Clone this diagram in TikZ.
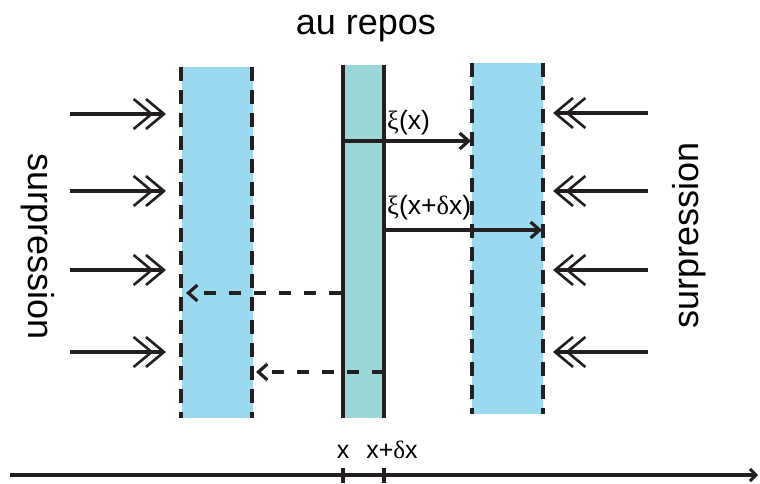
\documentclass[tikz,border=0pt]{standalone}
\usepackage{fontspec}
\setmainfont{Liberation Sans}
\newfontfamily\greekfont{Liberation Serif}
\usetikzlibrary{arrows.meta}
\definecolor{slabblue}{RGB}{154,217,240}
\definecolor{slabteal}{RGB}{155,215,217}
\definecolor{ink}{RGB}{35,31,32}
\tikzset{
  edgedash/.style={ink, line width=3.4pt, dash pattern=on 14pt off 9pt},
  edgesolid/.style={ink, line width=3.2pt},
  pressarrow/.style={ink, line width=3.2pt,
    -{Straight Barb[length=18pt,width=30pt,line width=2.6pt,sep=-9pt]Straight Barb[length=18pt,width=30pt,line width=2.6pt]}},
  disparrow/.style={ink, line width=3.4pt, -{Straight Barb[length=9pt,width=16pt,line width=3.2pt]}},
  dasharrow/.style={ink, line width=3.4pt, dash pattern=on 12pt off 13pt, -{Straight Barb[length=9pt,width=16pt,line width=3.2pt]}},
  bigtext/.style={font=\fontsize{36}{40}\selectfont, inner sep=0pt},
  lbltext/.style={font=\fontsize{25}{28}\selectfont, inner sep=0pt},
  xilabel/.style={font=\fontsize{26.5}{30}\selectfont, inner sep=0pt},
}
\newcommand{\gk}[1]{{\greekfont #1}}
\begin{document}
\begin{tikzpicture}[x=1pt,y=-1pt]
\useasboundingbox (0,0) rectangle (760,484);
% slabs
\fill[slabblue] (182,67) rectangle (253,418);
\fill[slabteal] (343,65) rectangle (384,418);
\fill[slabblue] (472,63) rectangle (543,414);
\draw[edgedash] (181,67) -- (181,418);
\draw[edgedash] (252,67) -- (252,418);
\draw[edgesolid] (343,65) -- (343,418);
\draw[edgesolid] (384,65) -- (384,418);
\draw[edgedash] (472,63) -- (472,414);
\draw[edgedash] (543,63) -- (543,414);
% title
\node[bigtext, anchor=base] (title) at (366,35) {au repos};
% side labels
\node[bigtext, rotate=-90] (sl) at (38,247) {surpression};
\node[bigtext, rotate=90] (sr) at (689,235) {surpression};
% pressure arrows
\foreach \y [count=\i] in {114,191,270,352}{
  \coordinate (la\i) at (70,\y);
  \coordinate (lb\i) at (166,\y);
  \draw[pressarrow] (la\i) -- (lb\i);
}
\foreach \y [count=\i] in {113,191,270,352}{
  \coordinate (ra\i) at (648,\y);
  \coordinate (rb\i) at (553,\y);
  \draw[pressarrow] (ra\i) -- (rb\i);
}
% displacement arrows
\coordinate (d1a) at (343,141);
\coordinate (d1b) at (471,141);
\draw[disparrow] (d1a) -- (d1b);
\node[xilabel, anchor=base west] (xi1) at (387,130) {\gk{ξ}(x)};
\coordinate (d2a) at (384,230);
\coordinate (d2b) at (542,230);
\draw[disparrow] (d2a) -- (d2b);
\node[xilabel, anchor=base west] (xi2) at (387,214) {\gk{ξ}(x+\gk{δ}x)};
% dashed arrows
\coordinate (e1a) at (341,293);
\coordinate (e1b) at (186,293);
\draw[dasharrow] (e1a) -- (e1b);
\coordinate (e2a) at (384,372);
\coordinate (e2b) at (256,372);
\draw[dasharrow] (e2a) -- (e2b);
% axis
\coordinate (ax0) at (10,475);
\coordinate (ax1) at (758,475);
\draw[ink, line width=3.6pt, -{Straight Barb[length=6pt,width=12pt,line width=3pt]}] (ax0) -- (ax1);
\draw[ink, line width=4.5pt] (343,468) -- (343,483);
\draw[ink, line width=4.5pt] (384,468) -- (384,483);
\node[lbltext, anchor=base] (tx) at (343,458) {x};
\node[lbltext, anchor=base] (tdx) at (392,458) {x+\gk{δ}x};
\end{tikzpicture}
\end{document}
